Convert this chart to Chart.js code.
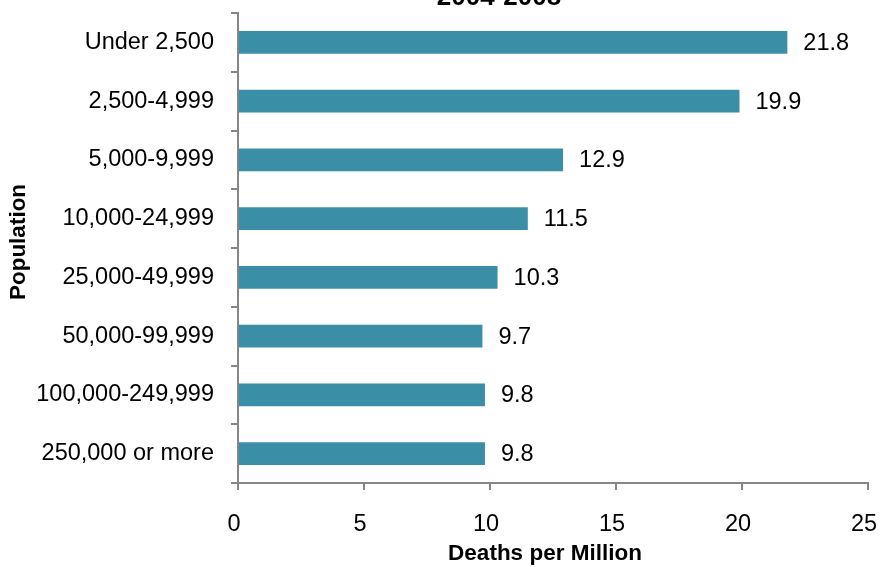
<!DOCTYPE html>
<html>
<head>
<meta charset="utf-8">
<script src="https://cdn.jsdelivr.net/npm/chart.js@4/dist/chart.umd.min.js"></script>
<style>
  html, body { margin: 0; padding: 0; background: #ffffff; overflow: hidden; }
  #wrap { position: relative; width: 880px; height: 567px; }
  canvas { display: block; }
</style>
</head>
<body>
<div id="wrap"><canvas id="chart" width="880" height="567"></canvas></div>
<script>
// Community population size groups and their death rates
const populationGroups = [
  'Under 2,500',
  '2,500-4,999',
  '5,000-9,999',
  '10,000-24,999',
  '25,000-49,999',
  '50,000-99,999',
  '100,000-249,999',
  '250,000 or more'
];
const deathsPerMillion = [21.8, 19.9, 12.9, 11.5, 10.3, 9.7, 9.8, 9.8];
const xTickValues = [0, 5, 10, 15, 20, 25];
const periodLabel = '2004-2008';
const xAxisTitle = 'Deaths per Million';
const yAxisTitle = 'Population';

const FONT = '"Liberation Sans", Arial, Helvetica, sans-serif';
const AXIS_GREY = '#868686';
const BAR_TEAL = '#3A8FA6';

// Value labels beside each bar, axis titles, and the period heading at the top edge
const annotate = {
  id: 'annotate',
  afterDatasetsDraw(chart) {
    const ctx = chart.ctx;
    const area = chart.chartArea;
    const meta = chart.getDatasetMeta(0);
    ctx.save();
    ctx.fillStyle = '#000000';
    ctx.font = '23.5px ' + FONT;
    ctx.textAlign = 'left';
    ctx.textBaseline = 'middle';
    meta.data.forEach((bar, i) => {
      ctx.fillText(deathsPerMillion[i].toFixed(1), bar.x + 16, bar.y + 1);
    });

    ctx.font = 'bold 22.5px ' + FONT;
    ctx.textAlign = 'center';
    ctx.textBaseline = 'middle';
    ctx.fillText(xAxisTitle, (area.left + area.right) / 2 - 8, area.bottom + 71);

    ctx.save();
    ctx.translate(19, (area.top + area.bottom) / 2 - 6);
    ctx.rotate(-Math.PI / 2);
    ctx.fillText(yAxisTitle, 0, 0);
    ctx.restore();

    ctx.font = 'bold 26px ' + FONT;
    ctx.textAlign = 'center';
    ctx.textBaseline = 'alphabetic';
    ctx.fillText(periodLabel, 499, 5);
    ctx.restore();
  }
};

new Chart(document.getElementById('chart'), {
  type: 'bar',
  data: {
    labels: populationGroups,
    datasets: [{
      data: deathsPerMillion,
      backgroundColor: BAR_TEAL,
      borderWidth: 0,
      barPercentage: 0.39,
      categoryPercentage: 1.0
    }]
  },
  options: {
    indexAxis: 'y',
    responsive: false,
    animation: false,
    devicePixelRatio: 1,
    layout: { padding: { top: 13, right: 12, left: 0, bottom: 0 } },
    plugins: {
      legend: { display: false },
      tooltip: { enabled: false },
      title: { display: false }
    },
    scales: {
      x: {
        type: 'linear',
        min: 0,
        max: 25,
        afterBuildTicks(scale) {
          scale.ticks = xTickValues.map(v => ({ value: v }));
        },
        afterFit(scale) {
          scale.height = 84;
          scale.paddingLeft = 0;
          scale.paddingRight = 0;
        },
        border: { display: true, color: AXIS_GREY, width: 2 },
        grid: {
          drawOnChartArea: false,
          drawTicks: true,
          tickLength: 7,
          color: AXIS_GREY,
          lineWidth: 2
        },
        ticks: {
          color: '#000000',
          font: { family: FONT, size: 23.5 },
          padding: 20,
          labelOffset: -4,
          maxRotation: 0
        },
        title: { display: false, text: xAxisTitle }
      },
      y: {
        type: 'category',
        afterFit(scale) {
          scale.width = 238;
          scale.paddingTop = 0;
          scale.paddingBottom = 0;
        },
        border: { display: true, color: AXIS_GREY, width: 2 },
        grid: {
          offset: true,
          drawOnChartArea: false,
          drawTicks: true,
          tickLength: 7,
          color: AXIS_GREY,
          lineWidth: 2
        },
        ticks: {
          color: '#000000',
          font: { family: FONT, size: 23.5 },
          padding: 17,
          autoSkip: false
        },
        title: { display: false, text: yAxisTitle }
      }
    }
  },
  plugins: [annotate]
});
</script>
</body>
</html>
